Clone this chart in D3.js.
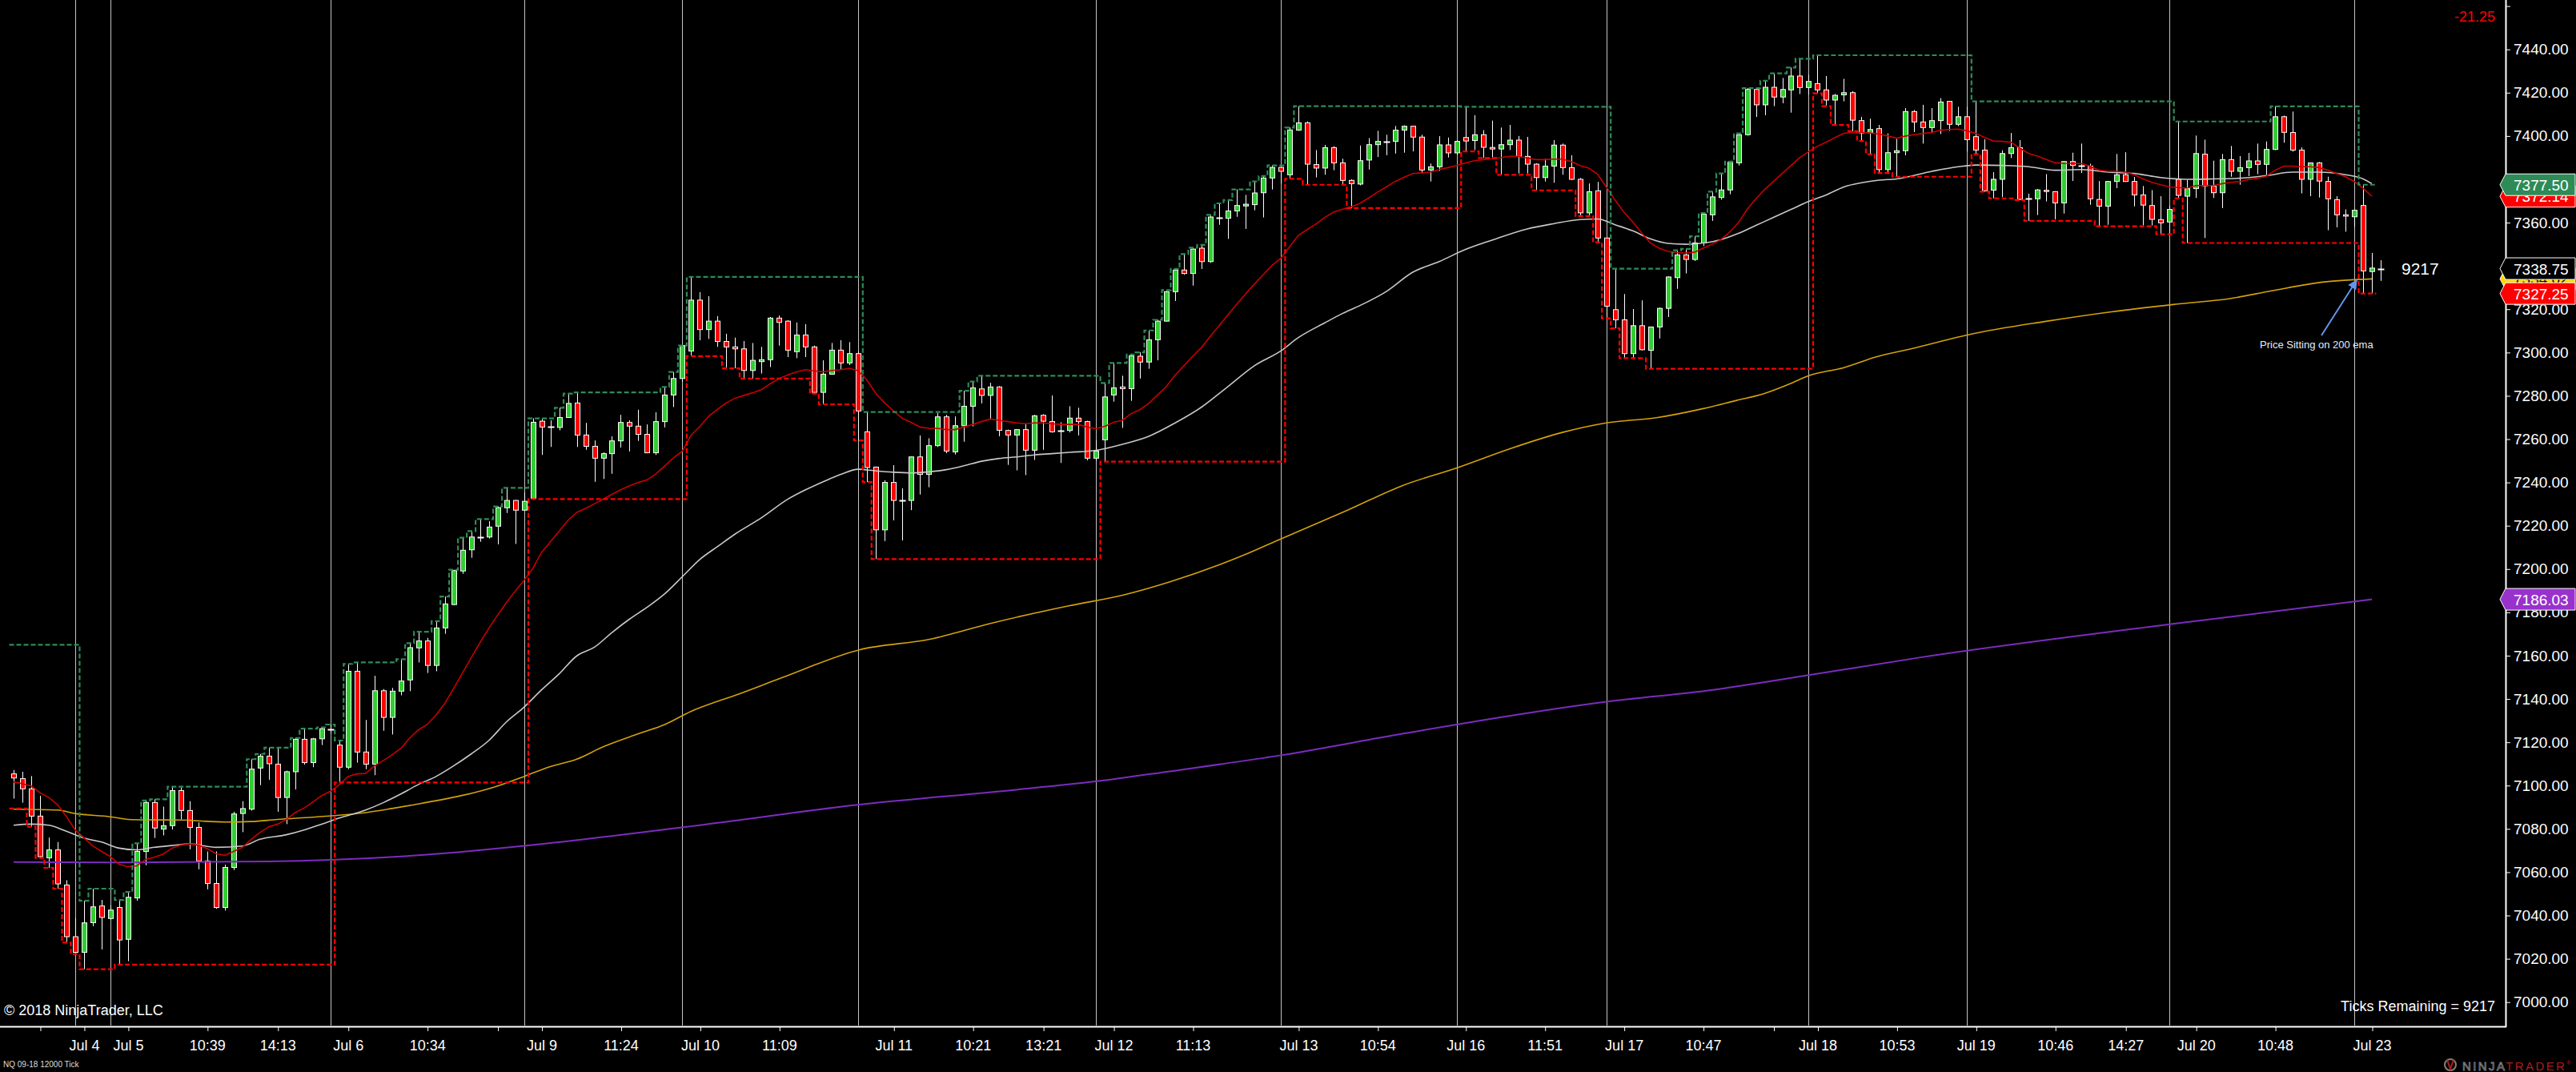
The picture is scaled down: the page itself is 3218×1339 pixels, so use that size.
<!DOCTYPE html>
<html>
<head>
<meta charset="utf-8">
<title>NQ 09-18 12000 Tick</title>
<script src="https://cdn.jsdelivr.net/npm/d3@7"></script>
<style>
  html, body { margin: 0; padding: 0; background: #000; overflow: hidden; }
  svg { display: block; font-family: "Liberation Sans", Arial, sans-serif; }
</style>
</head>
<body>
<svg id="chart" width="3218" height="1339"></svg>
<script>
// bar data, one entry per 12000 tick bar
const opens = [
  7105.4, 7103.2, 7098.5, 7085.9, 7066.6, 7070.3, 7054.1, 7030.2, 7023.0, 7036.7,
  7044.4, 7038.6, 7043.7, 7029.0, 7048.1, 7069.6, 7092.2, 7079.9, 7081.5, 7097.7,
  7088.5, 7080.7, 7065.2, 7054.8, 7043.7, 7062.2, 7087.1, 7089.1, 7108.1, 7113.6,
  7109.9, 7094.5, 7106.4, 7121.4, 7110.6, 7121.6, 7126.1, 7118.7, 7108.5, 7152.8,
  7115.5, 7109.9, 7143.8, 7131.5, 7143.6, 7148.8, 7163.6, 7166.8, 7155.5, 7172.8,
  7183.6, 7199.1, 7208.9, 7214.8, 7214.8, 7219.8, 7228.3, 7231.7, 7227.2, 7232.6,
  7268.3, 7265.6, 7265.4, 7270.0, 7276.7, 7261.9, 7256.7, 7251.2, 7253.3, 7259.2,
  7267.7, 7266.0, 7262.2, 7253.7, 7268.1, 7280.4, 7288.0, 7300.7, 7324.2, 7310.6,
  7314.5, 7305.1, 7302.6, 7301.7, 7291.7, 7295.8, 7296.7, 7315.9, 7314.5, 7300.4,
  7308.1, 7302.6, 7281.6, 7290.0, 7301.1, 7295.2, 7299.5, 7263.4, 7247.1, 7218.1,
  7240.0, 7231.7, 7231.7, 7251.8, 7243.7, 7257.0, 7270.3, 7254.1, 7266.2, 7275.2,
  7283.2, 7280.2, 7284.1, 7264.0, 7261.9, 7264.4, 7254.9, 7271.0, 7268.1, 7264.0,
  7264.0, 7269.7, 7268.1, 7251.2, 7259.7, 7280.4, 7284.1, 7283.3, 7298.3, 7295.6,
  7305.9, 7314.5, 7328.1, 7338.1, 7336.5, 7348.2, 7342.0, 7362.4, 7362.0, 7365.4,
  7367.7, 7368.3, 7373.8, 7380.6, 7385.5, 7382.1, 7402.7, 7406.1, 7386.8, 7385.2,
  7394.6, 7387.6, 7379.5, 7377.8, 7388.9, 7396.0, 7397.5, 7397.5, 7402.7, 7404.5,
  7399.5, 7384.3, 7385.8, 7395.9, 7392.2, 7399.3, 7397.9, 7400.6, 7394.7, 7394.0,
  7396.0, 7398.1, 7390.6, 7387.0, 7380.8, 7386.1, 7395.8, 7385.4, 7380.0, 7364.5,
  7374.7, 7352.9, 7319.8, 7315.1, 7299.5, 7312.4, 7301.0, 7311.8, 7320.4, 7334.6,
  7345.1, 7343.0, 7350.6, 7363.6, 7371.6, 7375.1, 7387.6, 7400.6, 7421.5, 7414.4,
  7422.5, 7418.0, 7421.3, 7427.7, 7422.4, 7424.2, 7421.3, 7416.6, 7419.0, 7420.0,
  7407.1, 7401.4, 7403.4, 7384.5, 7392.3, 7393.2, 7411.3, 7406.5, 7403.9, 7407.1,
  7416.0, 7405.4, 7408.9, 7399.7, 7393.5, 7375.0, 7380.0, 7391.9, 7394.6, 7371.2,
  7371.0, 7374.9, 7374.3, 7369.1, 7388.2, 7386.4, 7386.1, 7370.7, 7367.6, 7379.0,
  7382.1, 7379.0, 7372.8, 7367.9, 7361.4, 7360.3, 7380.0, 7372.2, 7375.7, 7391.6,
  7376.9, 7373.8, 7389.1, 7383.7, 7385.4, 7388.5, 7386.9, 7393.8, 7408.9, 7401.6,
  7393.5, 7380.0, 7387.6, 7379.0, 7370.6, 7363.6, 7362.7, 7367.9, 7337.4, 7338.75
]
const highs = [
  7107.2, 7106.4, 7104.4, 7095.3, 7076.0, 7073.9, 7056.3, 7038.8, 7046.8, 7052.4,
  7047.2, 7044.7, 7047.2, 7050.9, 7073.3, 7093.1, 7093.7, 7090.3, 7099.5, 7099.0,
  7092.8, 7083.0, 7069.6, 7069.6, 7063.5, 7087.9, 7092.8, 7112.2, 7114.6, 7117.5,
  7117.5, 7106.9, 7122.0, 7126.3, 7122.0, 7126.9, 7128.2, 7120.8, 7156.2, 7156.9,
  7130.3, 7150.7, 7144.6, 7145.1, 7158.4, 7165.8, 7171.0, 7168.2, 7175.9, 7187.3,
  7199.7, 7214.5, 7217.5, 7223.1, 7222.1, 7228.9, 7237.5, 7231.9, 7235.4, 7269.6,
  7269.6, 7268.7, 7274.5, 7281.0, 7281.6, 7267.5, 7259.4, 7253.9, 7261.3, 7271.2,
  7268.7, 7273.6, 7266.8, 7272.4, 7284.1, 7291.0, 7303.2, 7334.9, 7327.9, 7326.0,
  7316.8, 7308.7, 7306.9, 7305.3, 7304.4, 7302.6, 7316.4, 7317.1, 7314.9, 7313.9,
  7313.1, 7303.2, 7296.4, 7304.4, 7305.7, 7304.8, 7300.5, 7272.5, 7247.3, 7241.0,
  7248.0, 7237.3, 7252.0, 7261.7, 7260.4, 7272.0, 7271.2, 7270.5, 7282.3, 7286.6,
  7289.3, 7286.0, 7284.5, 7264.4, 7264.6, 7267.1, 7271.2, 7271.5, 7280.2, 7267.8,
  7275.2, 7274.5, 7268.5, 7259.5, 7285.9, 7295.2, 7289.3, 7299.1, 7300.1, 7310.2,
  7315.1, 7328.8, 7338.6, 7345.5, 7348.4, 7349.7, 7363.6, 7368.9, 7370.4, 7375.3,
  7372.8, 7379.0, 7381.5, 7386.4, 7386.1, 7403.9, 7413.8, 7406.7, 7393.5, 7395.9,
  7395.3, 7389.5, 7380.0, 7395.6, 7399.0, 7402.4, 7400.6, 7404.6, 7404.9, 7404.7,
  7400.6, 7387.3, 7399.9, 7399.3, 7398.1, 7413.5, 7409.6, 7402.7, 7407.1, 7403.9,
  7405.1, 7400.0, 7399.6, 7387.4, 7389.5, 7398.1, 7396.5, 7391.1, 7380.6, 7378.1,
  7378.8, 7353.0, 7338.7, 7327.0, 7320.1, 7324.1, 7312.0, 7320.8, 7335.2, 7347.2,
  7347.9, 7353.7, 7364.4, 7374.3, 7382.7, 7388.2, 7401.2, 7422.1, 7422.1, 7425.5,
  7428.9, 7426.8, 7431.6, 7435.7, 7428.3, 7437.3, 7427.7, 7419.4, 7426.4, 7420.7,
  7408.8, 7408.0, 7405.1, 7401.2, 7398.7, 7412.9, 7412.0, 7414.4, 7412.9, 7417.5,
  7416.2, 7413.5, 7413.5, 7416.0, 7398.5, 7383.3, 7393.4, 7401.4, 7398.1, 7373.4,
  7375.5, 7382.4, 7374.5, 7388.3, 7392.3, 7396.5, 7387.2, 7379.2, 7379.2, 7391.7,
  7392.5, 7381.1, 7376.9, 7375.0, 7372.2, 7367.9, 7406.7, 7379.6, 7400.2, 7398.3,
  7388.6, 7391.7, 7395.4, 7390.7, 7392.2, 7396.5, 7397.5, 7413.7, 7409.4, 7411.3,
  7394.8, 7387.6, 7388.0, 7381.2, 7372.2, 7366.1, 7366.1, 7377.5, 7346.0, 7342.6
]
const lows = [
  7094.0, 7092.1, 7081.0, 7066.6, 7062.0, 7052.4, 7027.5, 7022.2, 7015.2, 7035.1,
  7024.3, 7038.0, 7017.3, 7018.9, 7046.8, 7063.2, 7075.8, 7077.0, 7079.7, 7084.4,
  7070.6, 7061.3, 7052.1, 7043.1, 7042.3, 7061.0, 7078.5, 7088.4, 7100.2, 7102.7,
  7087.9, 7082.2, 7098.2, 7109.7, 7108.5, 7118.7, 7124.1, 7101.4, 7107.6, 7110.6,
  7107.6, 7104.8, 7125.3, 7123.6, 7141.7, 7143.6, 7156.9, 7152.0, 7152.8, 7170.1,
  7183.3, 7197.8, 7205.2, 7212.6, 7214.1, 7211.4, 7225.9, 7211.6, 7226.8, 7232.3,
  7252.7, 7256.4, 7264.1, 7269.8, 7256.4, 7255.1, 7240.3, 7241.6, 7244.0, 7256.1,
  7254.3, 7259.2, 7253.5, 7252.7, 7265.4, 7274.8, 7286.5, 7298.3, 7305.7, 7306.3,
  7302.6, 7292.7, 7292.7, 7288.0, 7288.0, 7290.3, 7293.3, 7303.2, 7297.9, 7297.4,
  7297.9, 7281.0, 7276.1, 7289.8, 7292.1, 7294.2, 7259.4, 7240.2, 7204.6, 7212.9,
  7222.5, 7213.2, 7227.2, 7234.4, 7237.8, 7256.4, 7253.5, 7252.9, 7258.8, 7265.9,
  7276.5, 7269.1, 7261.3, 7248.1, 7245.6, 7243.4, 7250.4, 7255.1, 7263.0, 7249.0,
  7263.1, 7261.7, 7250.2, 7250.0, 7249.6, 7277.3, 7265.2, 7277.7, 7288.0, 7292.5,
  7296.4, 7314.3, 7323.8, 7335.9, 7330.9, 7338.6, 7341.4, 7359.0, 7352.5, 7362.7,
  7357.1, 7365.7, 7362.4, 7375.3, 7378.0, 7380.2, 7402.4, 7377.5, 7380.9, 7382.1,
  7384.2, 7377.6, 7366.7, 7377.2, 7384.5, 7390.3, 7391.1, 7391.9, 7392.3, 7392.9,
  7382.7, 7379.0, 7383.9, 7390.1, 7391.3, 7392.9, 7393.5, 7389.8, 7390.0, 7382.1,
  7393.5, 7382.7, 7382.7, 7374.9, 7379.0, 7378.4, 7382.1, 7379.6, 7363.0, 7363.0,
  7350.9, 7315.8, 7311.2, 7297.4, 7297.4, 7301.0, 7292.5, 7306.5, 7316.4, 7329.4,
  7336.5, 7342.3, 7349.2, 7360.8, 7370.6, 7373.1, 7386.4, 7400.2, 7408.8, 7409.6,
  7413.8, 7415.1, 7410.8, 7419.4, 7419.0, 7419.7, 7413.8, 7405.1, 7416.0, 7402.2,
  7397.7, 7391.6, 7382.9, 7382.9, 7381.2, 7391.1, 7401.8, 7396.5, 7401.4, 7400.9,
  7402.4, 7404.6, 7392.8, 7391.6, 7374.3, 7371.2, 7371.8, 7389.8, 7370.4, 7360.8,
  7363.5, 7369.8, 7361.5, 7364.2, 7379.2, 7382.9, 7368.2, 7358.3, 7359.0, 7375.9,
  7378.8, 7367.5, 7358.7, 7358.7, 7354.6, 7354.6, 7371.2, 7350.6, 7371.4, 7352.9,
  7371.4, 7366.7, 7381.2, 7377.5, 7381.5, 7382.4, 7382.1, 7393.5, 7396.9, 7392.8,
  7373.5, 7372.2, 7371.6, 7356.5, 7357.8, 7355.8, 7358.0, 7327.25, 7327.25, 7333.1
]
const closes = [
  7103.5, 7098.5, 7085.9, 7067.2, 7070.3, 7054.6, 7030.2, 7023.0, 7036.6, 7044.0,
  7039.1, 7042.5, 7028.7, 7048.4, 7069.6, 7092.2, 7080.4, 7081.5, 7097.7, 7088.5,
  7080.7, 7065.2, 7054.8, 7043.7, 7062.2, 7086.9, 7089.4, 7107.6, 7113.6, 7110.1,
  7094.5, 7106.4, 7121.4, 7110.6, 7121.6, 7126.3, 7126.1, 7108.5, 7152.8, 7115.5,
  7109.9, 7143.8, 7131.5, 7143.6, 7148.3, 7163.7, 7166.8, 7155.5, 7172.8, 7183.9,
  7199.3, 7208.7, 7214.8, 7214.8, 7219.4, 7228.4, 7231.7, 7227.2, 7231.3, 7267.8,
  7265.6, 7265.6, 7270.0, 7276.5, 7261.9, 7256.7, 7251.2, 7253.3, 7259.2, 7267.7,
  7266.0, 7262.2, 7253.7, 7268.1, 7280.4, 7288.0, 7303.2, 7324.2, 7310.6, 7314.5,
  7305.1, 7302.6, 7301.7, 7291.7, 7296.4, 7296.7, 7315.9, 7313.9, 7301.1, 7308.1,
  7302.6, 7281.6, 7290.0, 7301.1, 7295.2, 7299.5, 7273.0, 7246.9, 7218.1, 7240.0,
  7231.7, 7231.7, 7251.8, 7243.7, 7257.0, 7270.3, 7254.5, 7266.2, 7275.2, 7283.7,
  7280.2, 7284.1, 7264.1, 7261.9, 7264.4, 7254.9, 7270.8, 7268.3, 7263.4, 7264.0,
  7269.7, 7268.1, 7251.2, 7254.5, 7279.5, 7283.7, 7283.3, 7298.5, 7295.6, 7305.9,
  7314.5, 7328.1, 7338.1, 7336.5, 7347.8, 7342.0, 7362.6, 7362.4, 7365.4, 7367.9,
  7368.5, 7373.7, 7380.6, 7385.5, 7383.7, 7402.8, 7406.1, 7387.0, 7385.2, 7394.6,
  7387.6, 7379.5, 7378.0, 7388.6, 7396.0, 7397.5, 7397.5, 7402.7, 7404.5, 7399.5,
  7384.3, 7385.8, 7395.9, 7392.2, 7397.5, 7397.7, 7400.6, 7394.8, 7394.0, 7396.0,
  7398.1, 7390.6, 7387.0, 7380.8, 7386.1, 7395.8, 7385.4, 7380.0, 7364.5, 7374.3,
  7352.9, 7321.4, 7315.1, 7299.5, 7312.4, 7301.3, 7311.8, 7320.4, 7334.9, 7345.1,
  7343.0, 7350.6, 7363.9, 7371.9, 7375.1, 7387.9, 7400.6, 7421.5, 7414.4, 7422.5,
  7418.0, 7421.5, 7427.7, 7422.4, 7425.2, 7421.3, 7416.6, 7418.8, 7420.0, 7407.3,
  7401.4, 7403.0, 7384.5, 7392.3, 7393.2, 7411.3, 7406.5, 7403.9, 7407.1, 7415.7,
  7405.4, 7408.9, 7398.3, 7393.5, 7374.7, 7380.0, 7391.9, 7394.6, 7370.7, 7371.2,
  7375.1, 7374.4, 7369.1, 7388.2, 7386.4, 7386.4, 7371.0, 7367.6, 7379.0, 7382.1,
  7379.0, 7372.8, 7368.1, 7361.5, 7359.9, 7366.1, 7372.6, 7375.7, 7391.9, 7376.9,
  7373.8, 7389.1, 7383.7, 7385.4, 7388.5, 7386.9, 7393.8, 7408.9, 7401.7, 7393.5,
  7380.0, 7387.6, 7379.2, 7371.0, 7363.6, 7363.0, 7365.7, 7337.7, 7339.0, 7338.75
]

// fast ema, one value per closed bar
const emaFast = [
  7101.7, 7100.8, 7099.8, 7096.7, 7094.5, 7091.2, 7085.7, 7079.5, 7075.8, 7072.1,
  7069.6, 7067.2, 7063.7, 7062.5, 7062.9, 7065.9, 7066.9, 7068.4, 7071.1, 7072.5,
  7073.1, 7072.5, 7070.9, 7068.6, 7067.8, 7069.6, 7071.5, 7075.2, 7078.3, 7081.0,
  7082.2, 7084.4, 7087.5, 7089.6, 7092.4, 7095.3, 7097.4, 7100.3, 7104.2, 7105.4,
  7105.6, 7109.1, 7111.5, 7114.2, 7117.1, 7121.9, 7125.7, 7128.2, 7132.5, 7138.0,
  7144.8, 7151.9, 7159.0, 7166.0, 7172.6, 7178.7, 7184.5, 7189.8, 7194.7, 7200.3,
  7207.7, 7212.6, 7217.5, 7222.5, 7226.2, 7228.0, 7230.1, 7232.3, 7234.5, 7236.6,
  7238.5, 7240.0, 7241.2, 7244.0, 7247.7, 7251.4, 7254.5, 7261.9, 7265.9, 7270.6,
  7273.8, 7276.8, 7278.9, 7280.2, 7281.4, 7282.9, 7285.6, 7288.0, 7289.7, 7291.1,
  7292.1, 7291.5, 7291.1, 7291.7, 7292.1, 7292.7, 7291.5, 7287.2, 7281.0, 7276.7,
  7273.0, 7269.6, 7267.8, 7265.6, 7265.0, 7265.0, 7264.4, 7264.4, 7265.6, 7266.8,
  7268.1, 7269.3, 7268.7, 7268.1, 7267.5, 7267.1, 7267.5, 7267.5, 7267.1, 7266.8,
  7266.8, 7266.8, 7265.6, 7264.8, 7265.9, 7267.8, 7268.7, 7271.8, 7273.6, 7276.5,
  7280.4, 7284.3, 7289.6, 7293.9, 7298.3, 7302.3, 7307.5, 7312.4, 7317.4, 7322.3,
  7327.0, 7331.6, 7335.9, 7340.2, 7343.5, 7348.8, 7354.1, 7356.8, 7359.3, 7362.4,
  7364.8, 7366.1, 7367.3, 7368.9, 7371.4, 7374.1, 7376.5, 7379.0, 7380.9, 7382.7,
  7383.0, 7383.3, 7384.5, 7385.4, 7386.4, 7387.6, 7388.6, 7389.1, 7389.5, 7390.0,
  7390.6, 7390.6, 7389.8, 7389.1, 7389.1, 7389.3, 7389.3, 7388.2, 7386.4, 7385.2,
  7382.4, 7376.5, 7370.4, 7364.8, 7360.3, 7355.3, 7350.6, 7348.2, 7346.7, 7346.1,
  7346.0, 7346.3, 7348.2, 7350.0, 7352.1, 7355.5, 7359.9, 7366.1, 7371.0, 7375.3,
  7379.0, 7382.7, 7386.4, 7390.1, 7392.8, 7395.3, 7397.2, 7399.3, 7401.2, 7401.7,
  7401.6, 7401.4, 7400.9, 7400.0, 7399.0, 7400.0, 7400.6, 7401.2, 7401.6, 7402.7,
  7403.0, 7403.2, 7402.4, 7401.2, 7399.3, 7397.7, 7397.5, 7397.1, 7394.4, 7391.9,
  7390.7, 7389.1, 7387.6, 7387.4, 7387.3, 7387.3, 7386.1, 7384.2, 7383.7, 7383.7,
  7383.3, 7382.1, 7380.2, 7378.6, 7377.5, 7376.5, 7376.2, 7375.9, 7377.1, 7377.1,
  7377.1, 7378.0, 7378.6, 7379.0, 7379.9, 7380.5, 7381.4, 7384.2, 7386.1, 7386.1,
  7385.8, 7385.8, 7385.4, 7384.2, 7382.7, 7381.2, 7379.0, 7375.9, 7372.14
]

// slower averages, sampled as [bar, value]
const emaMid = [
  [0, 7081.7], [2, 7082.2], [4, 7081.7], [6, 7078.9], [8, 7075.8], [10, 7073.9], [12, 7071.1],
  [14, 7070.3], [16, 7071.5], [18, 7072.3], [20, 7073.1], [23, 7071.5], [26, 7072.1], [28, 7075.2],
  [31, 7077.3], [33, 7079.5], [35, 7082.2], [37, 7085.0], [40, 7088.7], [42, 7092.1], [44, 7096.1],
  [46, 7100.5], [48, 7104.2], [50, 7109.1], [52, 7114.6], [54, 7120.8], [56, 7129.4], [58, 7136.2],
  [60, 7144.2], [62, 7151.6], [64, 7159.9], [66, 7163.9], [68, 7170.7], [70, 7176.9], [72, 7182.4],
  [74, 7188.6], [76, 7196.5], [78, 7204.5], [80, 7210.4], [82, 7216.2], [85, 7223.7], [88, 7232.3],
  [90, 7236.6], [92, 7240.3], [94, 7243.7], [96, 7246.1], [98, 7245.3], [100, 7244.7], [102, 7244.4],
  [104, 7244.9], [106, 7245.9], [108, 7247.7], [110, 7249.8], [112, 7251.1], [114, 7251.8], [116, 7252.7],
  [118, 7253.3], [120, 7253.9], [123, 7254.8], [126, 7257.6], [129, 7261.3], [132, 7267.5], [135, 7274.8],
  [138, 7284.3], [141, 7293.9], [144, 7300.7], [146, 7306.9], [149, 7313.7], [151, 7318.0], [153, 7321.7],
  [156, 7328.2], [159, 7337.1], [162, 7342.0], [165, 7347.6], [168, 7351.9], [172, 7357.1], [175, 7359.5],
  [178, 7361.4], [180, 7361.7], [182, 7359.0], [184, 7356.2], [186, 7352.5], [188, 7350.4], [190, 7350.0],
  [192, 7350.6], [194, 7352.1], [196, 7355.0], [198, 7358.7], [200, 7362.4], [202, 7366.1], [204, 7369.8],
  [206, 7372.8], [208, 7376.5], [210, 7378.4], [212, 7379.6], [214, 7380.2], [218, 7383.7], [221, 7385.8],
  [223, 7386.6], [226, 7386.4], [229, 7385.8], [232, 7384.2], [235, 7384.5], [238, 7383.3], [241, 7382.7],
  [244, 7380.8], [247, 7380.0], [250, 7380.2], [253, 7380.5], [256, 7381.7], [259, 7383.3], [262, 7383.3],
  [265, 7382.1], [267, 7380.2], [268, 7378.0]
]
const ema200 = [
  [0, 7089.1], [5, 7088.7], [7, 7087.1], [11, 7085.6], [13, 7084.4], [15, 7084.2], [19, 7084.1],
  [24, 7083.2], [27, 7083.4], [30, 7084.4], [34, 7085.4], [37, 7086.3], [40, 7087.5], [43, 7089.4],
  [45, 7090.8], [55.5, 7100.5], [58, 7104.2], [61, 7108.8], [64, 7112.2], [67, 7117.9], [71, 7123.9],
  [74, 7128.2], [77, 7134.3], [80, 7138.9], [82, 7141.7], [87.3, 7149.8], [96.1, 7162.7], [104.1, 7167.6],
  [111.1, 7175.0], [119.9, 7183.0], [126.1, 7188.0], [131.4, 7194.1], [140.2, 7207.1], [144, 7213.9],
  [151.7, 7227.4], [157.8, 7238.5], [164, 7246.7], [170, 7255.5], [176, 7263.1], [181, 7267.5],
  [186.7, 7269.9], [191.9, 7274.0], [195.8, 7277.9], [198.9, 7281.0], [201.9, 7285.6], [204, 7289.3],
  [208, 7293.0], [211.6, 7297.9], [215.7, 7301.8], [222.7, 7308.7], [230.8, 7314.3], [238.4, 7318.8],
  [245.7, 7322.3], [252, 7325.0], [256.6, 7328.5], [262.6, 7332.6], [268, 7334.0]
]
const emaSlow = [
  [0, 7064.7], [11, 7064.5], [29, 7065.0], [36, 7065.7], [46, 7067.8], [60, 7073.0], [78.5, 7082.0],
  [96.1, 7091.2], [113.7, 7098.0], [122.9, 7101.9], [131.4, 7106.6], [144, 7114.0], [157.8, 7123.9],
  [164, 7128.2], [181, 7138.7], [193.1, 7144.2], [204, 7151.0], [216.7, 7159.2], [245, 7174.5], [268, 7186.03]
]

// session break bars (vertical lines); a new session starts on the bar after
const sessionBreaks = [7, 11, 36, 58, 76, 96, 123, 144, 164, 181, 204, 222, 245, 266]
// high / low of the session already running when the chart starts
const priorHigh = 7165.0
const priorLow = 7089.4

const timeTickBars = [3, 8, 13, 22, 30, 38, 47, 55, 60, 69, 78, 87, 100, 109, 117, 125, 134,
  146, 155, 165, 174, 183, 192, 200, 205, 214, 223, 232, 240, 248, 257, 268]
const timeTickLabels = ['', 'Jul 4', 'Jul 5', '10:39', '14:13', 'Jul 6', '10:34', '', 'Jul 9', '11:24',
  'Jul 10', '11:09', 'Jul 11', '10:21', '13:21', 'Jul 12', '11:13', 'Jul 13', '10:54', 'Jul 16', '11:51',
  'Jul 17', '10:47', '', 'Jul 18', '10:53', 'Jul 19', '10:46', '14:27', 'Jul 20', '10:48', 'Jul 23']

const priceTicks = [7000, 7020, 7040, 7060, 7080, 7100, 7120, 7140, 7160, 7180, 7200, 7220, 7240,
  7260, 7280, 7300, 7320, 7340, 7360, 7380, 7400, 7420, 7440, 7460]

// right axis markers, drawn in this order (later ones on top)
const tagValues = [7372.14, 7377.50, 7334.02, 7338.75, 7327.25, 7186.03]
const tagFills = ['#ff0000', '#2e8b57', '#ffd700', '#000000', '#ff0000', '#9932cc']
const tagInk = ['#ffffff', '#ffffff', '#000000', '#ffffff', '#ffffff', '#ffffff']

const plotRight = 3130
const plotBottom = 1282

const svg = d3.select('#chart')
svg.append('rect').attr('width', 3218).attr('height', 1339).attr('fill', '#000')

const x = d3.scaleLinear().domain([0, 269]).range([17, 2974])
const y = d3.scaleLinear().domain([7000, 7440]).range([1251.7, 61.7])

function px(v){
  return Math.round(v) + 0.5
}

// session separators
svg.append('g').selectAll('line')
  .data(sessionBreaks)
  .join('line')
  .attr('x1', d => px(x(d)))
  .attr('x2', d => px(x(d)))
  .attr('y1', 0)
  .attr('y2', plotBottom - 1)
  .attr('stroke', '#c4c4c4')
  .attr('stroke-width', 1)

// candles
const bars = closes.map((c, i) => ({ i, o: opens[i], h: highs[i], l: lows[i], c }))
const candleG = svg.append('g')

candleG.selectAll('line.wick')
  .data(bars)
  .join('line')
  .attr('class', 'wick')
  .attr('x1', d => px(x(d.i)))
  .attr('x2', d => px(x(d.i)))
  .attr('y1', d => y(d.h))
  .attr('y2', d => y(d.l))
  .attr('stroke', '#fff')
  .attr('stroke-width', 1)

candleG.selectAll('rect.body')
  .data(bars.filter(d => Math.abs(d.o - d.c) >= 0.3))
  .join('rect')
  .attr('class', 'body')
  .attr('x', d => px(x(d.i)) - 3)
  .attr('width', 6)
  .attr('y', d => y(Math.max(d.o, d.c)))
  .attr('height', d => Math.max(1, Math.abs(y(d.o) - y(d.c))))
  .attr('fill', d => d.c > d.o ? '#32cd32' : '#ff0000')
  .attr('stroke', '#fff')
  .attr('stroke-width', 1)

candleG.selectAll('line.doji')
  .data(bars.filter(d => Math.abs(d.o - d.c) < 0.3))
  .join('line')
  .attr('class', 'doji')
  .attr('x1', d => px(x(d.i)) - 4)
  .attr('x2', d => px(x(d.i)) + 4)
  .attr('y1', d => Math.round(y(d.c)) + 0.5)
  .attr('y2', d => Math.round(y(d.c)) + 0.5)
  .attr('stroke', '#fff')
  .attr('stroke-width', 2)

// moving averages
const linePts = d3.line().x(d => x(d[0])).y(d => y(d[1])).curve(d3.curveMonotoneX)

svg.append('path')
  .attr('d', linePts(emaSlow))
  .attr('fill', 'none').attr('stroke', '#7b2cbf').attr('stroke-width', 2)
svg.append('path')
  .attr('d', linePts(ema200))
  .attr('fill', 'none').attr('stroke', '#d4a20c').attr('stroke-width', 1.6)
svg.append('path')
  .attr('d', linePts(emaMid))
  .attr('fill', 'none').attr('stroke', '#c8c8c8').attr('stroke-width', 1.6)
svg.append('path')
  .attr('d', d3.line().x((d, i) => x(i)).y(d => y(d))(emaFast))
  .attr('fill', 'none').attr('stroke', '#c80000').attr('stroke-width', 1.6)

// running session high / low (dashed steps)
function sessionRange(){
  let hi = priorHigh
  let lo = priorLow
  let out = []
  for (let i = 0; i < closes.length - 1; i++) {
    if (sessionBreaks.includes(i - 1)) {
      hi = highs[i]
      lo = lows[i]
    } else {
      hi = Math.max(hi, highs[i])
      lo = Math.min(lo, lows[i])
    }
    out.push({ i, hi, lo })
  }
  let first = out[0]
  let last = out[out.length - 1]
  return [{ i: -0.5, hi: first.hi, lo: first.lo }, ...out, { i: last.i + 0.5, hi: last.hi, lo: last.lo }]
}

const range = sessionRange()
const stepHigh = d3.line().x(d => x(d.i)).y(d => y(d.hi)).curve(d3.curveStep)
const stepLow = d3.line().x(d => x(d.i)).y(d => y(d.lo)).curve(d3.curveStep)

svg.append('path')
  .attr('d', stepHigh(range))
  .attr('fill', 'none').attr('stroke', '#2e8b57').attr('stroke-width', 2.2)
  .attr('stroke-dasharray', '6,3')
svg.append('path')
  .attr('d', stepLow(range))
  .attr('fill', 'none').attr('stroke', '#ff0000').attr('stroke-width', 2.2)
  .attr('stroke-dasharray', '6,3')

// axes
const xAxis = d3.axisBottom(x)
  .tickValues(timeTickBars)
  .tickFormat((d, k) => timeTickLabels[k])
  .tickSize(6)
  .tickPadding(11)

svg.append('g')
  .attr('transform', `translate(0,${plotBottom})`)
  .call(xAxis)
  .call(g => g.select('.domain').remove())
  .call(g => g.selectAll('line').attr('stroke', '#fff').attr('transform', 'translate(0.5,0)'))
  .call(g => g.selectAll('text').attr('fill', '#fff').attr('font-size', 18)
    .attr('font-family', '"Liberation Sans", Arial, sans-serif'))

const yAxis = d3.axisRight(y)
  .tickValues(priceTicks)
  .tickFormat(d => d > 7440 ? '' : d.toFixed(2))
  .tickSize(6)
  .tickPadding(4)

svg.append('g')
  .attr('transform', `translate(${plotRight},0)`)
  .call(yAxis)
  .call(g => g.select('.domain').remove())
  .call(g => g.selectAll('line').attr('stroke', '#fff'))
  .call(g => g.selectAll('text').attr('fill', '#fff').attr('font-size', 19)
    .attr('font-family', '"Liberation Sans", Arial, sans-serif'))

svg.append('line')
  .attr('x1', 0).attr('x2', plotRight + 1).attr('y1', plotBottom + 0.5).attr('y2', plotBottom + 0.5)
  .attr('stroke', '#fff').attr('stroke-width', 2)
svg.append('line')
  .attr('x1', plotRight + 0.5).attr('x2', plotRight + 0.5).attr('y1', 0).attr('y2', plotBottom + 1)
  .attr('stroke', '#fff').attr('stroke-width', 2)

// price markers on the right axis
const tagG = svg.append('g')
tagValues.forEach((v, k) => {
  let yc = y(v)
  tagG.append('path')
    .attr('d', `M${plotRight - 7},${yc} L${plotRight},${yc - 13.5} L3217,${yc - 13.5} L3217,${yc + 13.5} L${plotRight},${yc + 13.5} Z`)
    .attr('fill', tagFills[k])
    .attr('stroke', '#fff')
    .attr('stroke-width', 1)
  tagG.append('text')
    .attr('x', 3140)
    .attr('y', yc + 7)
    .attr('fill', tagInk[k])
    .attr('font-size', 19)
    .text(v.toFixed(2))
})

// texts
svg.append('text')
  .attr('x', 3117).attr('y', 27).attr('text-anchor', 'end')
  .attr('fill', '#ff0000').attr('font-size', 18)
  .text('-21.25')

svg.append('text')
  .attr('x', 3000).attr('y', 343)
  .attr('fill', '#fff').attr('font-size', 21)
  .text('9217')

svg.append('text')
  .attr('x', 3117).attr('y', 1263).attr('text-anchor', 'end')
  .attr('fill', '#fff').attr('font-size', 18)
  .text('Ticks Remaining = 9217')

svg.append('text')
  .attr('x', 5).attr('y', 1268)
  .attr('fill', '#fff').attr('font-size', 18)
  .text('© 2018 NinjaTrader, LLC')

svg.append('text')
  .attr('x', 4).attr('y', 1333)
  .attr('fill', '#ddd').attr('font-size', 10)
  .text('NQ 09-18 12000 Tick')

// annotation arrow
svg.append('defs').append('marker')
  .attr('id', 'head')
  .attr('viewBox', '0 0 10 10')
  .attr('refX', 9).attr('refY', 5)
  .attr('markerWidth', 6).attr('markerHeight', 6)
  .attr('markerUnits', 'strokeWidth')
  .attr('orient', 'auto')
  .append('path').attr('d', 'M0,0 L10,5 L0,10 Z').attr('fill', '#6495ed')

svg.append('line')
  .attr('x1', 2900).attr('y1', 419).attr('x2', 2944).attr('y2', 350)
  .attr('stroke', '#6495ed').attr('stroke-width', 2)
  .attr('marker-end', 'url(#head)')

svg.append('text')
  .attr('x', 2823).attr('y', 435)
  .attr('fill', '#e4ecff').attr('font-size', 13)
  .text('Price Sitting on 200 ema')

// logo
const logo = svg.append('g').attr('transform', 'translate(3052,1337)')
logo.append('circle').attr('cx', 9).attr('cy', -7).attr('r', 7)
  .attr('fill', 'none').attr('stroke', '#8a7f78').attr('stroke-width', 2)
logo.append('path').attr('d', 'M5,-13 L9,-2 L13,-13').attr('fill', 'none')
  .attr('stroke', '#b01e1e').attr('stroke-width', 2)
const logoText = logo.append('text').attr('x', 24).attr('y', 0)
  .attr('font-size', 15).attr('letter-spacing', 2.4)
logoText.append('tspan').attr('fill', '#000').attr('stroke', '#8a8a8a').attr('stroke-width', 0.8).text('NINJA')
logoText.append('tspan').attr('fill', '#b01e1e').text('TRADER')
logoText.append('tspan').attr('fill', '#b01e1e').attr('font-size', 7).attr('dy', -7).text('®')
</script>
</body>
</html>
